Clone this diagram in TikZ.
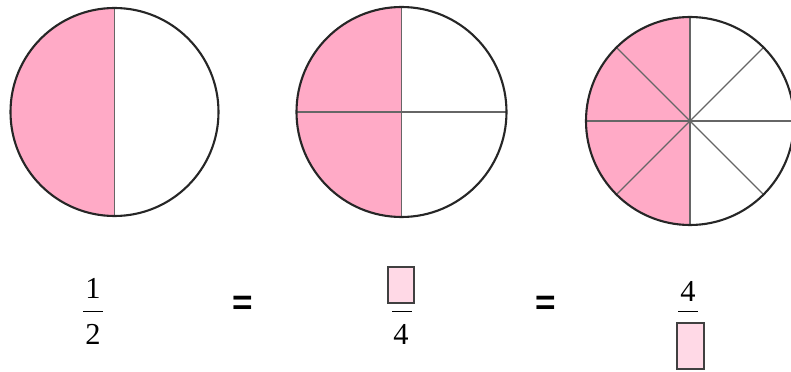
\documentclass[tikz,border=0pt]{standalone}
\usepackage{fontspec}
\setmainfont{Liberation Serif}
\setsansfont{Liberation Sans}
\definecolor{piepink}{HTML}{FFAAC6}
\definecolor{boxpink}{HTML}{FFD9E6}

\begin{document}
\begin{tikzpicture}[x=0.3mm, y=-0.3mm,
    rim/.style={line width=1.8pt, draw=black!85},
    cut/.style={draw=black!60, line width=1.1pt},
    bar/.style={line width=0.8pt},
    digit/.style={font=\fontsize{26}{30}\selectfont, inner sep=0pt},
    eqsign/.style={font=\fontsize{30}{32}\selectfont\sffamily\bfseries, inner sep=0pt},
    blank/.style={draw=black!75, line width=1.3pt, fill=boxpink, inner sep=0pt}]
  \useasboundingbox (0,0) rectangle (791,372);
  % the three pies
  \foreach \cx/\cy/\r/\n in {114.5/112/104/2, 401.5/112/105/4, 690/121/104/8} {
    \begin{scope}[shift={(\cx,\cy)}]
      \fill[piepink] (0,0) -- (90:\r) arc[start angle=90, end angle=270, radius=\r] -- cycle;
      \foreach \k in {1,...,\n}
        \draw[cut] (0,0) -- ({360/\n*\k+90}:\r);
      \draw[rim] (0,0) circle[radius=\r];
    \end{scope}
  }
  % 1/2
  \node[digit] (numA) at (93,288) {1};
  \node[digit] (denA) at (93,334) {2};
  \draw[bar] (83,311) -- (103,311);
  \node[eqsign] (eqA) at (243,305) {=};
  % ?/4
  \node[blank, minimum width=7.8mm, minimum height=10.8mm] (numB) at (401,285) {};
  \node[digit] (denB) at (401,334) {4};
  \draw[bar] (392,311) -- (412,311);
  \node[eqsign] (eqB) at (546,305) {=};
  % 4/?
  \node[digit] (numC) at (688,291) {4};
  \draw[bar] (678,311) -- (698,311);
  \node[blank, minimum width=8.1mm, minimum height=13.8mm] (denC) at (690.5,346) {};
\end{tikzpicture}
\end{document}
